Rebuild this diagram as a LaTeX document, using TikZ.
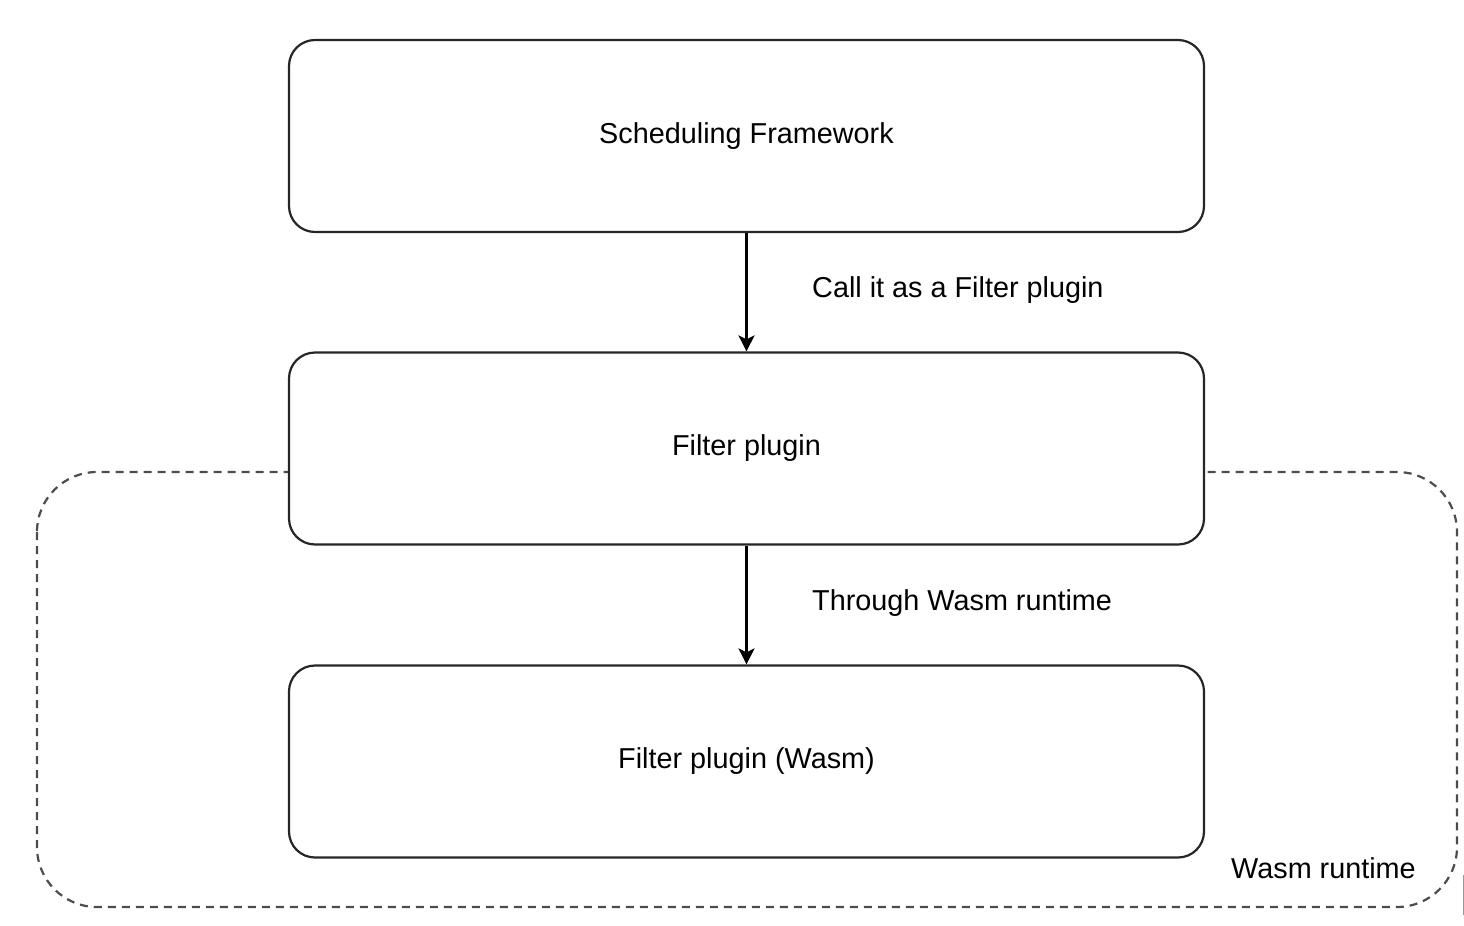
\documentclass[tikz,border=0pt]{standalone}
\usepackage{fontspec}
\setmainfont{Liberation Sans}
\usetikzlibrary{arrows.meta}
\begin{document}
\begin{tikzpicture}[x=1pt,y=-1pt,
  block/.style={draw=black!85, line width=2.2pt, fill=white, rounded corners=26pt,
    minimum width=915pt, minimum height=192pt, inner sep=0pt, font=\fontsize{28.8}{32}\selectfont},
  lbl/.style={anchor=west, inner sep=0pt, font=\fontsize{28.8}{32}\selectfont},
  conn/.style={line width=2.2pt, -{Stealth[length=16pt,width=16pt,inset=4pt]}},
  group/.style={draw=black!70, line width=2.2pt, dash pattern=on 8pt off 6pt, rounded corners=60pt}]
\useasboundingbox (0,0) rectangle (1464,926);
\draw[group] (37,472) rectangle (1457,907);
\node[block] (sf) at (746.5,136) {Scheduling Framework};
\node[block] (fp) at (746.5,448.5) {Filter plugin};
\node[block] (fw) at (746.5,761.5) {Filter plugin (Wasm)};
\draw[conn] (sf.south) -- (fp.north);
\draw[conn] (fp.south) -- (fw.north);
\node[lbl] (l1) at (812,290) {Call it as a Filter plugin};
\node[lbl] (l2) at (812,603) {Through Wasm runtime};
\node[lbl] (l3) at (1231,868) {Wasm runtime};
\draw[black!40, line width=1pt] (1463,875) -- (1463,915);
\end{tikzpicture}
\end{document}
